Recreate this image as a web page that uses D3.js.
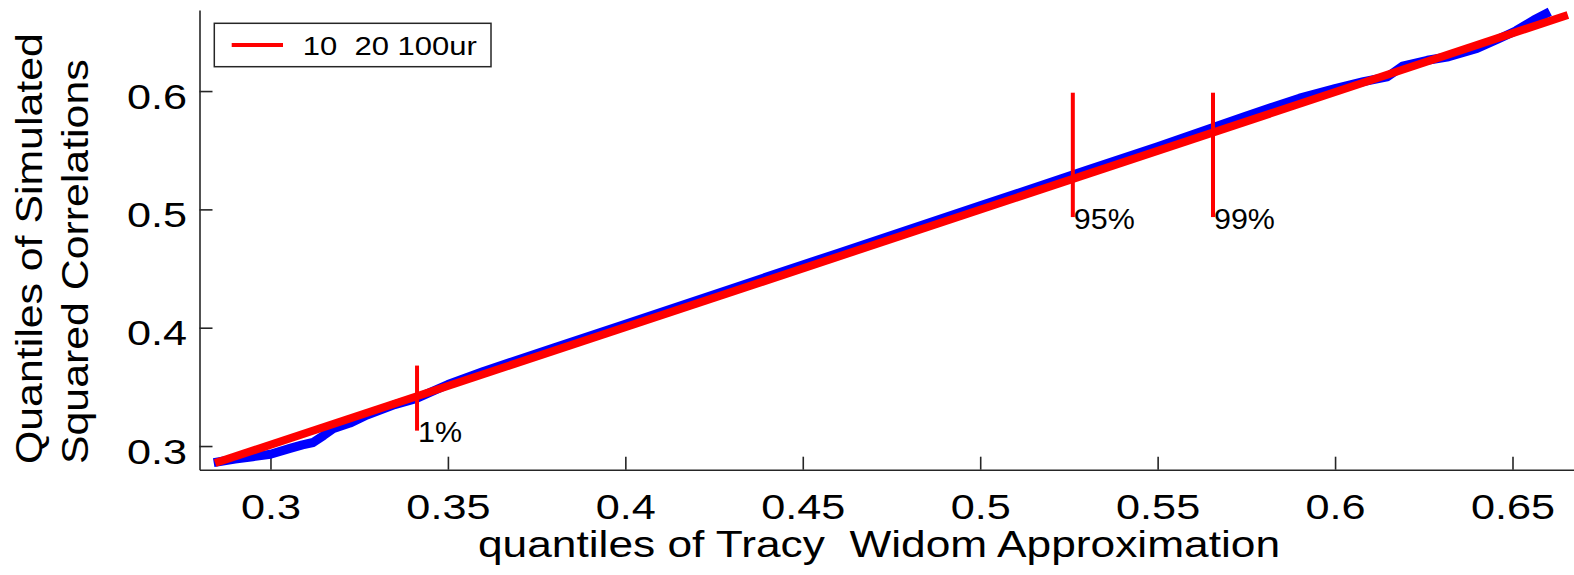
<!DOCTYPE html>
<html>
<head>
<meta charset="utf-8">
<script src="https://cdn.jsdelivr.net/npm/d3@7"></script>
<style>
  body { margin: 0; background: #fff; }
  svg text { font-family: "Liberation Sans", Arial, sans-serif; fill: #000; white-space: pre; }
</style>
</head>
<body>
<svg width="1574" height="575"></svg>
<script>
// quantile pairs (Tracy-Widom approx vs simulated)
var twQuantiles = [0.284, 0.290, 0.295, 0.300, 0.3055, 0.309, 0.312, 0.315, 0.3176, 0.3224,
  0.3272, 0.335, 0.341, 0.350, 0.360, 0.380, 0.400, 0.430, 0.460, 0.500,
  0.530, 0.550, 0.575, 0.590, 0.600, 0.608, 0.6147, 0.619, 0.626, 0.632,
  0.640, 0.646, 0.651, 0.656, 0.6605];
var simQuantiles = [0.286, 0.289, 0.291, 0.293, 0.298, 0.301, 0.303, 0.309, 0.3146, 0.3194,
  0.3262, 0.335, 0.340, 0.352, 0.363, 0.383, 0.403, 0.433, 0.463, 0.503,
  0.533, 0.553, 0.579, 0.594, 0.602, 0.608, 0.612, 0.621, 0.626, 0.629,
  0.636, 0.644, 0.651, 0.660, 0.667];

// reference line
var fitX = [0.2844, 0.6656];
var fitY = [0.2856, 0.6643];

// percentile markers
var markerLabels = ["1%", "95%", "99%"];
var markerX = [0.3413, 0.5261, 0.5656];
var markerLo = [0.313, 0.4935, 0.4935];
var markerHi = [0.368, 0.5986, 0.5986];

var xTicks = [0.3, 0.35, 0.4, 0.45, 0.5, 0.55, 0.6, 0.65];
var xTickLabels = ["0.3", "0.35", "0.4", "0.45", "0.5", "0.55", "0.6", "0.65"];
var yTicks = [0.3, 0.4, 0.5, 0.6];
var yTickLabels = ["0.3", "0.4", "0.5", "0.6"];

var legendLabel = "10  20 100ur";
var xTitle = "quantiles of Tracy  Widom Approximation";
var yTitle = ["Quantiles of Simulated", "Squared Correlations"];

var svg = d3.select("svg");

var x = d3.scaleLinear().domain([0.28, 0.6675]).range([199.5, 1574.6]);
var y = d3.scaleLinear().domain([0.28, 0.6685]).range([469.7, 10]);

var line = d3.line()
  .x(function(d) { return x(d[0]); })
  .y(function(d) { return y(d[1]); });

var axisColor = "#262626";

// axes, ticks pointing inward
var xAxis = svg.append("g")
  .attr("transform", "translate(0," + y(0.28) + ")")
  .call(d3.axisBottom(x)
    .tickValues(xTicks)
    .tickFormat(function(d, i) { return xTickLabels[i]; })
    .tickSizeInner(-13)
    .tickSizeOuter(0)
    .tickPadding(22));

var yAxis = svg.append("g")
  .attr("transform", "translate(" + x(0.28) + ",0)")
  .call(d3.axisLeft(y)
    .tickValues(yTicks)
    .tickFormat(function(d, i) { return yTickLabels[i]; })
    .tickSizeInner(-13)
    .tickSizeOuter(0)
    .tickPadding(12.5));

[xAxis, yAxis].forEach(function(ax) {
  ax.select(".domain").attr("stroke", axisColor).attr("stroke-width", 1.6);
  ax.selectAll(".tick line").attr("stroke", axisColor).attr("stroke-width", 1.6);
  ax.selectAll(".tick text")
    .style("font-size", "36px")
    .attr("fill", "#000");
});

xAxis.selectAll(".tick text")
  .attr("dy", null)
  .attr("y", 49)
  .attr("transform", "scale(1.2,1)");

yAxis.selectAll(".tick text")
  .attr("dy", null)
  .attr("y", 17)
  .attr("x", -12.5 / 1.2)
  .attr("transform", "scale(1.2,1)");

// data curve
var pts = twQuantiles.map(function(d, i) { return [d, simQuantiles[i]]; });
svg.append("path")
  .datum(pts)
  .attr("d", line)
  .attr("fill", "none")
  .attr("stroke", "#0000ff")
  .attr("stroke-width", 9)
  .attr("stroke-linejoin", "round");

// fitted line
svg.append("path")
  .datum(fitX.map(function(d, i) { return [d, fitY[i]]; }))
  .attr("d", line)
  .attr("fill", "none")
  .attr("stroke", "#ff0000")
  .attr("stroke-width", 8);

// percentile markers
var marks = svg.append("g").selectAll("g")
  .data(markerLabels)
  .enter().append("g");

marks.append("line")
  .attr("x1", function(d, i) { return x(markerX[i]); })
  .attr("x2", function(d, i) { return x(markerX[i]); })
  .attr("y1", function(d, i) { return y(markerLo[i]); })
  .attr("y2", function(d, i) { return y(markerHi[i]); })
  .attr("stroke", "#ff0000")
  .attr("stroke-width", 4);

marks.append("text")
  .attr("transform", function(d, i) {
    return "translate(" + (x(markerX[i]) + 1) + "," + (y(markerLo[i]) + 11.5) + ") scale(1.05,1)";
  })
  .style("font-size", "29px")
  .text(function(d) { return d; });

// legend
var legend = svg.append("g");
legend.append("rect")
  .attr("x", 214.3).attr("y", 23.3)
  .attr("width", 276.7).attr("height", 43.4)
  .attr("fill", "#fff")
  .attr("stroke", axisColor)
  .attr("stroke-width", 1.5);
legend.append("line")
  .attr("x1", 231.7).attr("x2", 283)
  .attr("y1", 45).attr("y2", 45)
  .attr("stroke", "#ff0000")
  .attr("stroke-width", 4);
legend.append("text")
  .attr("transform", "translate(302.7,55) scale(1.17,1)")
  .style("font-size", "26.5px")
  .text(legendLabel);

// axis titles
svg.append("text")
  .attr("transform", "translate(879,557) scale(1.23,1)")
  .attr("text-anchor", "middle")
  .style("font-size", "36px")
  .text(xTitle);

svg.selectAll(".ytitle")
  .data(yTitle)
  .enter().append("text")
  .attr("class", "ytitle")
  .attr("transform", function(d, i) {
    return "translate(" + (42 + i * 46) + ",464) rotate(-90) scale(1.19,1)";
  })
  .style("font-size", "36px")
  .text(function(d) { return d; });
</script>
</body>
</html>
